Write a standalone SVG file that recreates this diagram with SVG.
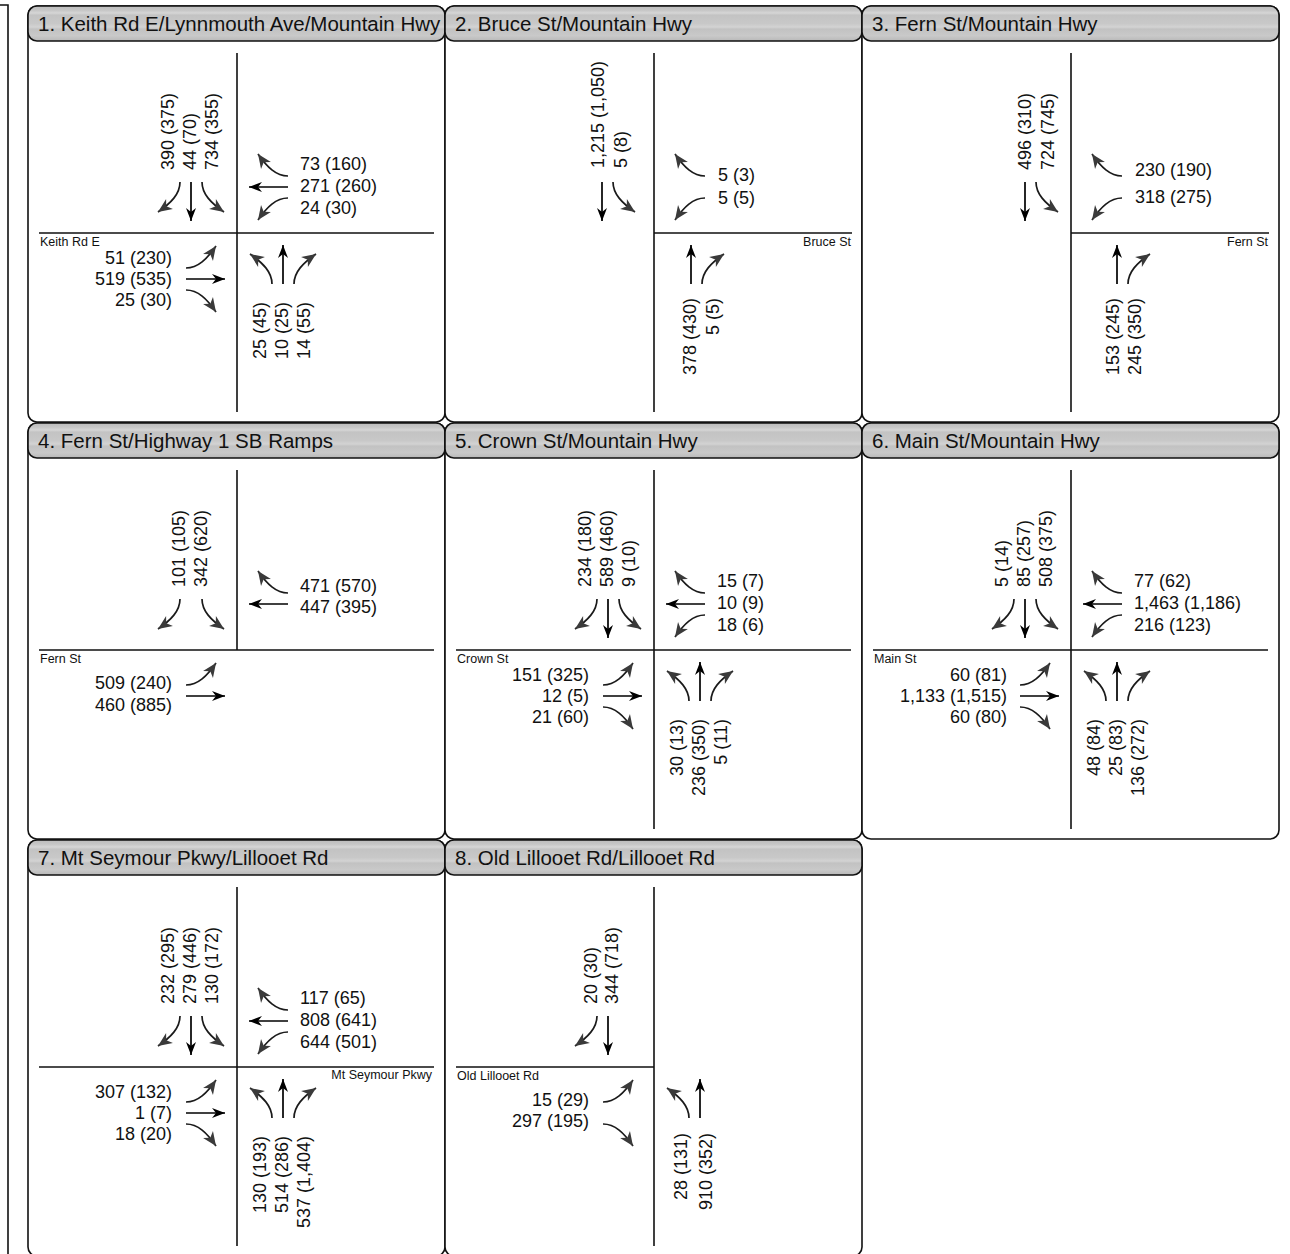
<svg xmlns="http://www.w3.org/2000/svg" xmlns:xlink="http://www.w3.org/1999/xlink" width="1290" height="1254" viewBox="0 0 1290 1254">
<style>
text{font-family:"Liberation Sans",Arial,Helvetica,sans-serif;fill:#111}
.n{font-size:18px}
.t{font-size:20.5px}
.r{font-size:12.5px}
.e{text-anchor:end}
.frame{fill:#fff;stroke:#111;stroke-width:1.6}
.bar{fill:url(#tg);stroke:#111;stroke-width:1.6}
.road{stroke:#111;stroke-width:1.6;fill:none}
.st{stroke:#000;stroke-width:1.7;fill:none;marker-end:url(#mk)}
.cv{stroke:#1a1a1a;stroke-width:1.7;fill:none;marker-end:url(#mc)}
</style>
<defs>
<linearGradient id="tg" x1="0" y1="0" x2="0" y2="1">
<stop offset="0" stop-color="#bcbcbc"/>
<stop offset="0.12" stop-color="#c6c6c6"/>
<stop offset="0.2" stop-color="#d6d6d6"/>
<stop offset="0.26" stop-color="#c3c3c3"/>
<stop offset="0.5" stop-color="#c8c8c8"/>
<stop offset="0.6" stop-color="#d3d3d3"/>
<stop offset="0.66" stop-color="#c2c2c2"/>
<stop offset="0.85" stop-color="#c9c9c9"/>
<stop offset="1" stop-color="#b8b8b8"/>
</linearGradient>
<marker id="mk" viewBox="-14 -7 15 14" markerWidth="15" markerHeight="14" markerUnits="userSpaceOnUse" orient="auto" refX="0" refY="0"><path d="M0,0 L-13,-5 L-9,0 L-13,5Z" fill="#000"/></marker>
<marker id="mc" viewBox="-15 -7 16 14" markerWidth="16" markerHeight="14" markerUnits="userSpaceOnUse" orient="auto" refX="0" refY="0"><path d="M0,0 L-14,-6 L-10,0 L-14,6Z" fill="#3a3a3a"/></marker>
<path id="sL" class="cv" d="M-57,-51 C-57,-39 -66,-30 -79,-21"/>
<path id="sT" class="st" d="M-46,-51 V-12"/>
<path id="sR" class="cv" d="M-35,-51 C-35,-39 -26,-30 -13,-21"/>
</defs>

<path d="M0,5 H8 V1254" fill="none" stroke="#111" stroke-width="1.6"/>

<!-- Panel 1 -->
<g id="p1" transform="translate(237,233)">
<rect class="frame" x="-209" y="-227" width="417" height="416" rx="9"/>
<rect class="bar" x="-209" y="-227" width="417" height="35" rx="9"/>
<text class="t" x="-199" y="-202">1. Keith Rd E/Lynnmouth Ave/Mountain Hwy</text>
<path class="road" d="M0,-180 V179 M-198,0 H197"/>
<text class="r" x="-197" y="13">Keith Rd E</text>
<text class="n" transform="translate(-63,-63) rotate(-90)">390 (375)</text>
<text class="n" transform="translate(-41,-63) rotate(-90)">44 (70)</text>
<text class="n" transform="translate(-19,-63) rotate(-90)">734 (355)</text>
<text class="n" x="63" y="-63">73 (160)</text>
<text class="n" x="63" y="-41">271 (260)</text>
<text class="n" x="63" y="-19">24 (30)</text>
<text class="n e" x="-65" y="31">51 (230)</text>
<text class="n e" x="-65" y="52">519 (535)</text>
<text class="n e" x="-65" y="73">25 (30)</text>
<text class="n e" transform="translate(29,69) rotate(-90)">25 (45)</text>
<text class="n e" transform="translate(51,69) rotate(-90)">10 (25)</text>
<text class="n e" transform="translate(73,69) rotate(-90)">14 (55)</text>
</g>

<!-- Panel 2 -->
<g id="p2" transform="translate(654,233)">
<rect class="frame" x="-209" y="-227" width="417" height="416" rx="9"/>
<rect class="bar" x="-209" y="-227" width="417" height="35" rx="9"/>
<text class="t" x="-199" y="-202">2. Bruce St/Mountain Hwy</text>
<path class="road" d="M0,-180 V179 M0,0 H198"/>
<text class="r e" x="197" y="13">Bruce St</text>
<text class="n" transform="translate(-50,-65) rotate(-90)">1,215 (1,050)</text>
<text class="n" transform="translate(-27,-65) rotate(-90)">5 (8)</text>
<text class="n" x="64" y="-52">5 (3)</text>
<text class="n" x="64" y="-29">5 (5)</text>
<text class="n e" transform="translate(42,65) rotate(-90)">378 (430)</text>
<text class="n e" transform="translate(65,65) rotate(-90)">5 (5)</text>
</g>

<!-- Panel 3 -->
<g id="p3" transform="translate(1071,233)">
<rect class="frame" x="-209" y="-227" width="417" height="416" rx="9"/>
<rect class="bar" x="-209" y="-227" width="417" height="35" rx="9"/>
<text class="t" x="-199" y="-202">3. Fern St/Mountain Hwy</text>
<path class="road" d="M0,-180 V179 M0,0 H198"/>
<text class="r e" x="197" y="13">Fern St</text>
<text class="n" transform="translate(-40,-63) rotate(-90)">496 (310)</text>
<text class="n" transform="translate(-17,-63) rotate(-90)">724 (745)</text>
<text class="n" x="64" y="-57">230 (190)</text>
<text class="n" x="64" y="-30">318 (275)</text>
<text class="n e" transform="translate(48,65) rotate(-90)">153 (245)</text>
<text class="n e" transform="translate(70,65) rotate(-90)">245 (350)</text>
</g>

<!-- Panel 4 -->
<g id="p4" transform="translate(237,650)">
<rect class="frame" x="-209" y="-227" width="417" height="416" rx="9"/>
<rect class="bar" x="-209" y="-227" width="417" height="35" rx="9"/>
<text class="t" x="-199" y="-202">4. Fern St/Highway 1 SB Ramps</text>
<path class="road" d="M0,-180 V0 M-198,0 H197"/>
<text class="r" x="-197" y="13">Fern St</text>
<text class="n" transform="translate(-52,-63) rotate(-90)">101 (105)</text>
<text class="n" transform="translate(-30,-63) rotate(-90)">342 (620)</text>
<text class="n" x="63" y="-58">471 (570)</text>
<text class="n" x="63" y="-37">447 (395)</text>
<text class="n e" x="-65" y="39">509 (240)</text>
<text class="n e" x="-65" y="61">460 (885)</text>
</g>

<!-- Panel 5 -->
<g id="p5" transform="translate(654,650)">
<rect class="frame" x="-209" y="-227" width="417" height="416" rx="9"/>
<rect class="bar" x="-209" y="-227" width="417" height="35" rx="9"/>
<text class="t" x="-199" y="-202">5. Crown St/Mountain Hwy</text>
<path class="road" d="M0,-180 V179 M-198,0 H197"/>
<text class="r" x="-197" y="13">Crown St</text>
<text class="n" transform="translate(-63,-63) rotate(-90)">234 (180)</text>
<text class="n" transform="translate(-41,-63) rotate(-90)">589 (460)</text>
<text class="n" transform="translate(-19,-63) rotate(-90)">9 (10)</text>
<text class="n" x="63" y="-63">15 (7)</text>
<text class="n" x="63" y="-41">10 (9)</text>
<text class="n" x="63" y="-19">18 (6)</text>
<text class="n e" x="-65" y="31">151 (325)</text>
<text class="n e" x="-65" y="52">12 (5)</text>
<text class="n e" x="-65" y="73">21 (60)</text>
<text class="n e" transform="translate(29,69) rotate(-90)">30 (13)</text>
<text class="n e" transform="translate(51,69) rotate(-90)">236 (350)</text>
<text class="n e" transform="translate(73,69) rotate(-90)">5 (11)</text>
</g>

<!-- Panel 6 -->
<g id="p6" transform="translate(1071,650)">
<rect class="frame" x="-209" y="-227" width="417" height="416" rx="9"/>
<rect class="bar" x="-209" y="-227" width="417" height="35" rx="9"/>
<text class="t" x="-199" y="-202">6. Main St/Mountain Hwy</text>
<path class="road" d="M0,-180 V179 M-198,0 H197"/>
<text class="r" x="-197" y="13">Main St</text>
<text class="n" transform="translate(-63,-63) rotate(-90)">5 (14)</text>
<text class="n" transform="translate(-41,-63) rotate(-90)">85 (257)</text>
<text class="n" transform="translate(-19,-63) rotate(-90)">508 (375)</text>
<text class="n" x="63" y="-63">77 (62)</text>
<text class="n" x="63" y="-41">1,463 (1,186)</text>
<text class="n" x="63" y="-19">216 (123)</text>
<text class="n e" x="-64" y="31">60 (81)</text>
<text class="n e" x="-64" y="52">1,133 (1,515)</text>
<text class="n e" x="-64" y="73">60 (80)</text>
<text class="n e" transform="translate(29,69) rotate(-90)">48 (84)</text>
<text class="n e" transform="translate(51,69) rotate(-90)">25 (83)</text>
<text class="n e" transform="translate(73,69) rotate(-90)">136 (272)</text>
</g>

<!-- Panel 7 -->
<g id="p7" transform="translate(237,1067)">
<rect class="frame" x="-209" y="-227" width="417" height="416" rx="9"/>
<rect class="bar" x="-209" y="-227" width="417" height="35" rx="9"/>
<text class="t" x="-199" y="-202">7. Mt Seymour Pkwy/Lillooet Rd</text>
<path class="road" d="M0,-180 V179 M-198,0 H197"/>
<text class="r e" x="195" y="12">Mt Seymour Pkwy</text>
<text class="n" transform="translate(-63,-63) rotate(-90)">232 (295)</text>
<text class="n" transform="translate(-41,-63) rotate(-90)">279 (446)</text>
<text class="n" transform="translate(-19,-63) rotate(-90)">130 (172)</text>
<text class="n" x="63" y="-63">117 (65)</text>
<text class="n" x="63" y="-41">808 (641)</text>
<text class="n" x="63" y="-19">644 (501)</text>
<text class="n e" x="-65" y="31">307 (132)</text>
<text class="n e" x="-65" y="52">1 (7)</text>
<text class="n e" x="-65" y="73">18 (20)</text>
<text class="n e" transform="translate(29,69) rotate(-90)">130 (193)</text>
<text class="n e" transform="translate(51,69) rotate(-90)">514 (286)</text>
<text class="n e" transform="translate(73,69) rotate(-90)">537 (1,404)</text>
</g>

<!-- Panel 8 -->
<g id="p8" transform="translate(654,1067)">
<rect class="frame" x="-209" y="-227" width="417" height="416" rx="9"/>
<rect class="bar" x="-209" y="-227" width="417" height="35" rx="9"/>
<text class="t" x="-199" y="-202">8. Old Lillooet Rd/Lillooet Rd</text>
<path class="road" d="M0,-180 V179 M-198,0 H0"/>
<text class="r" x="-197" y="13">Old Lillooet Rd</text>
<text class="n" transform="translate(-57,-63) rotate(-90)">20 (30)</text>
<text class="n" transform="translate(-36,-63) rotate(-90)">344 (718)</text>
<text class="n e" x="-65" y="39">15 (29)</text>
<text class="n e" x="-65" y="60">297 (195)</text>
<text class="n e" transform="translate(33,66) rotate(-90)">28 (131)</text>
<text class="n e" transform="translate(58,66) rotate(-90)">910 (352)</text>
</g>

<!-- Connectors (turning movement arrows) -->
<g id="connectors">
<g transform="translate(237,233)">
<use href="#sL"/><use href="#sT"/><use href="#sR"/>
<g transform="rotate(90)"><use href="#sL"/><use href="#sT"/><use href="#sR"/></g>
<g transform="rotate(-90)"><use href="#sL"/><use href="#sT"/><use href="#sR"/></g>
<g transform="rotate(180)"><use href="#sL"/><use href="#sT"/><use href="#sR"/></g>
</g>
<g transform="translate(654,233)">
<g transform="translate(-6,0)"><use href="#sT"/><use href="#sR"/></g>
<g transform="rotate(90)"><use href="#sL"/><use href="#sR"/></g>
<g transform="translate(-9,0) rotate(180)"><use href="#sT"/><use href="#sL"/></g>
</g>
<g transform="translate(1071,233)">
<use href="#sT"/><use href="#sR"/>
<g transform="rotate(90)"><use href="#sL"/><use href="#sR"/></g>
<g transform="rotate(180)"><use href="#sT"/><use href="#sL"/></g>
</g>
<g transform="translate(237,650)">
<use href="#sL"/><use href="#sR"/>
<g transform="rotate(90)"><use href="#sL"/><use href="#sT"/></g>
<g transform="rotate(-90)"><use href="#sR"/><use href="#sT"/></g>
</g>
<g transform="translate(654,650)">
<use href="#sL"/><use href="#sT"/><use href="#sR"/>
<g transform="rotate(90)"><use href="#sL"/><use href="#sT"/><use href="#sR"/></g>
<g transform="rotate(-90)"><use href="#sL"/><use href="#sT"/><use href="#sR"/></g>
<g transform="rotate(180)"><use href="#sL"/><use href="#sT"/><use href="#sR"/></g>
</g>
<g transform="translate(1071,650)">
<use href="#sL"/><use href="#sT"/><use href="#sR"/>
<g transform="rotate(90)"><use href="#sL"/><use href="#sT"/><use href="#sR"/></g>
<g transform="rotate(-90)"><use href="#sL"/><use href="#sT"/><use href="#sR"/></g>
<g transform="rotate(180)"><use href="#sL"/><use href="#sT"/><use href="#sR"/></g>
</g>
<g transform="translate(237,1067)">
<use href="#sL"/><use href="#sT"/><use href="#sR"/>
<g transform="rotate(90)"><use href="#sL"/><use href="#sT"/><use href="#sR"/></g>
<g transform="rotate(-90)"><use href="#sL"/><use href="#sT"/><use href="#sR"/></g>
<g transform="rotate(180)"><use href="#sL"/><use href="#sT"/><use href="#sR"/></g>
</g>
<g transform="translate(654,1067)">
<use href="#sL"/><use href="#sT"/>
<g transform="rotate(-90)"><use href="#sL"/><use href="#sR"/></g>
<g transform="rotate(180)"><use href="#sT"/><use href="#sR"/></g>
</g>
</g>
</svg>
